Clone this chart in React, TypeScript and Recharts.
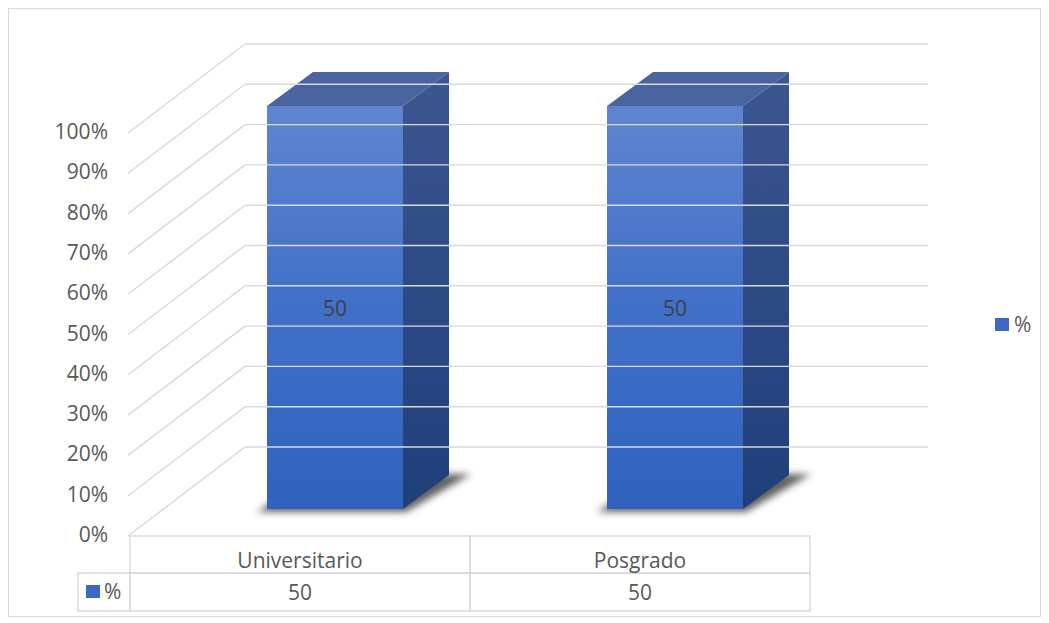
import { BarChart, Bar, XAxis, YAxis, Legend } from 'recharts';

const categories = ['Universitario', 'Posgrado'];
const values = [50, 50];
const seriesName = '%';
const yTicks = [0, 0.1, 0.2, 0.3, 0.4, 0.5, 0.6, 0.7, 0.8, 0.9, 1];
const AXIS_MAX = 1;

const data = categories.map((name, i) => ({ name, value: values[i] }));

const FONT = '"Open Sans", sans-serif';
const FS = 21;
const TEXT = '#595959';
const GRID = '#d9d9d9';

// 3d geometry
const WALL_DX = 115;
const WALL_DY = -89;
const WALL_RIGHT = 919;
const PLANE_DX = 35;
const PLANE_DY = -27;
const DEPTH_DX = 46;
const DEPTH_DY = -34;

const YTick = (props: any) => {
  const { x, y, payload } = props;
  const left = x + 23;
  return (
    <g>
      <line x1={left - 2} y1={y} x2={left + WALL_DX} y2={y + WALL_DY} stroke={GRID} strokeWidth={1.4} />
      <line x1={left + WALL_DX} y1={y + WALL_DY} x2={WALL_RIGHT} y2={y + WALL_DY} stroke={GRID} strokeWidth={1.4} />
      <text x={x + 1} y={y - 2} textAnchor="end" dominantBaseline="central" fill={TEXT} fontSize={FS} fontFamily={FONT}>
        {`${Math.round(payload.value * 100)}%`}
      </text>
    </g>
  );
};

const XTick = (props: any) => {
  const { x, y, payload, index } = props;
  const half = payload.offset || 170;
  const l = x - half;
  const r = x + half;
  const row = 37;
  return (
    <g>
      <rect x={l} y={y} width={r - l} height={row} fill="none" stroke={GRID} strokeWidth={1.4} />
      <rect x={l} y={y + row} width={r - l} height={row + 1} fill="none" stroke={GRID} strokeWidth={1.4} />
      {index === 0 && (
        <g>
          <rect x={l - 52} y={y + row} width={52} height={row + 1} fill="none" stroke={GRID} strokeWidth={1.4} />
          <rect x={l - 44} y={y + row + 12} width={14} height={13} fill="#3d69c4" />
          <text x={l - 26} y={y + row + 18} dominantBaseline="central" fill={TEXT} fontSize={FS} fontFamily={FONT}>
            {seriesName}
          </text>
        </g>
      )}
      <text x={x} y={y + row / 2 + 5} textAnchor="middle" dominantBaseline="central" fill={TEXT} fontSize={FS} fontFamily={FONT}>
        {payload.value}
      </text>
      <text x={x} y={y + row * 1.5} textAnchor="middle" dominantBaseline="central" fill={TEXT} fontSize={FS} fontFamily={FONT}>
        {values[index]}
      </text>
    </g>
  );
};

const Bar3D = (props: any) => {
  const { x, y, width, height, index, payload } = props;
  const fx = x + PLANE_DX;
  const fy = y + PLANE_DY;
  const r = fx + width;
  const b = fy + height;
  const id = `b3d${index}`;
  return (
    <g>
      <defs>
        <linearGradient id={`${id}f`} x1="0" y1="0" x2="0" y2="1">
          <stop offset="0%" stopColor="#5f85d0" />
          <stop offset="50%" stopColor="#4170c8" />
          <stop offset="100%" stopColor="#2f62bd" />
        </linearGradient>
        <linearGradient id={`${id}s`} x1="0" y1="0" x2="0" y2="1">
          <stop offset="0%" stopColor="#3c5690" />
          <stop offset="100%" stopColor="#1f3f7b" />
        </linearGradient>
        <filter id={`${id}b`} x="-20%" y="-50%" width="140%" height="200%">
          <feGaussianBlur stdDeviation="3.5" />
        </filter>
      </defs>
      <polygon
        points={`${fx - 10},${b + 3} ${r + 3},${b + 3} ${r + DEPTH_DX + 22},${b + DEPTH_DY - 1} ${fx + DEPTH_DX},${b + DEPTH_DY}`}
        fill="#2a2a2a"
        opacity={0.75}
        filter={`url(#${id}b)`}
      />
      <polygon
        points={`${r},${fy} ${r + DEPTH_DX},${fy + DEPTH_DY} ${r + DEPTH_DX},${b + DEPTH_DY} ${r},${b}`}
        fill={`url(#${id}s)`}
      />
      <polygon
        points={`${fx},${fy} ${fx + DEPTH_DX},${fy + DEPTH_DY} ${r + DEPTH_DX},${fy + DEPTH_DY} ${r},${fy}`}
        fill="#49649f"
      />
      <rect x={fx} y={fy} width={width} height={height} fill={`url(#${id}f)`} />
      <text x={fx + width / 2} y={fy + height / 2} textAnchor="middle" dominantBaseline="central" fill="#404040" fontSize={FS} fontFamily={FONT}>
        {payload.value}
      </text>
    </g>
  );
};

const LegendContent = () => (
  <div style={{ display: 'flex', alignItems: 'center', gap: 5, fontFamily: FONT, fontSize: FS, color: TEXT }}>
    <span style={{ display: 'inline-block', width: 14, height: 13, background: '#3d69c4' }} />
    <span>{seriesName}</span>
  </div>
);

export default function App() {
  return (
    <div style={{ width: 1031, height: 607, border: `1px solid ${GRID}`, background: '#fff' }}>
      <BarChart
        width={1031}
        height={607}
        data={data}
        margin={{ top: 124, right: 230, bottom: 5, left: 21 }}
        barCategoryGap="30%"
      >
        <YAxis
          type="number"
          domain={[0, AXIS_MAX]}
          ticks={yTicks}
          width={100}
          axisLine={false}
          tickLine={false}
          tickSize={0}
          tickMargin={23}
          tick={<YTick />}
        />
        <XAxis
          dataKey="name"
          type="category"
          height={75}
          interval={0}
          axisLine={false}
          tickLine={false}
          tickSize={0}
          tickMargin={0}
          tick={<XTick />}
        />
        <Legend
          layout="horizontal"
          align="center"
          verticalAlign="middle"
          wrapperStyle={{ left: 986, top: 301, width: 50, height: 30 }}
          content={<LegendContent />}
        />
        <Bar
          dataKey={(d: any) => Math.min(d.value, AXIS_MAX)}
          name={seriesName}
          shape={<Bar3D />}
          isAnimationActive={false}
        />
      </BarChart>
    </div>
  );
}
